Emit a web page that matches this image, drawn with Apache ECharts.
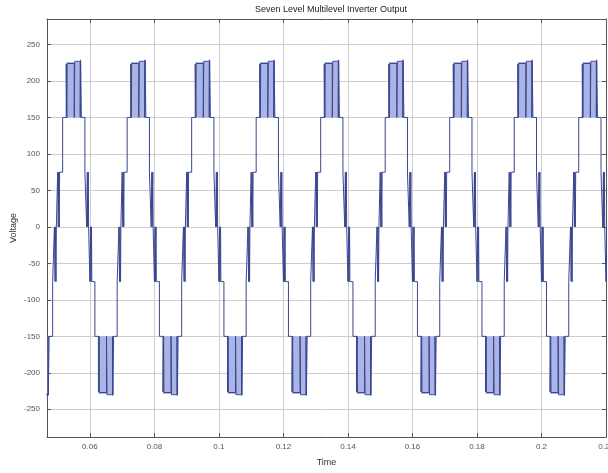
<!DOCTYPE html>
<html>
<head>
<meta charset="utf-8">
<title>Seven Level Multilevel Inverter Output</title>
<script src="https://cdn.jsdelivr.net/npm/echarts@6.0.0/dist/echarts.min.js"></script>
<style>
  html, body { margin: 0; padding: 0; background: #fff; }
  #chart { width: 608px; height: 473px; }
</style>
</head>
<body>
<div id="chart"></div>
<script>
// Tick labels
const xTicks = [0.06, 0.08, 0.1, 0.12, 0.14, 0.16, 0.18, 0.2, 0.22];
const yTicks = [-250, -200, -150, -100, -50, 0, 50, 100, 150, 200, 250];

// Start time (s) of each 50 Hz cycle in view
const cycleStarts = [0.03, 0.05, 0.07, 0.09, 0.11, 0.13, 0.15, 0.17, 0.19, 0.21];

// Switching instants inside one cycle (ms) and the level after each switch (V)
const switchTimes = [
    0.0, 0.2, 0.3, 0.5, 0.6, 1.55,
    2.65, 2.85, 2.95, 5.15, 5.3, 7.0, 7.1, 7.35,
    8.45, 9.0, 9.2, 9.3, 9.5, 9.6,
    10.0, 10.2, 10.3, 10.5, 10.6, 11.55,
    12.65, 12.85, 12.95, 15.15, 15.3, 17.0, 17.1, 17.35,
    18.45, 19.0, 19.2, 19.3, 19.5, 19.6
];
const switchLevels = [
    75, 0, 75, 0, 75, 150,
    223, 150, 224, 150, 227, 150, 229, 150,
    75, 0, 75, 0, 75, 0,
    -75, 0, -75, 0, -75, -150,
    -226, -150, -227, -150, -230, -150, -231, -150,
    -75, 0, -75, 0, -75, 0
];

// PWM bursts at the peaks: [start ms, end ms] and [inner level, outer level]
const peakBursts = [[2.65, 7.35], [12.65, 17.35]];
const burstLevels = [[150, 226], [-150, -229]];

let chart;

function buildWaveform() {
    const points = [];
    cycleStarts.forEach(t0 => {
        switchTimes.forEach((ms, i) => {
            points.push([+(t0 + ms / 1000).toFixed(5), switchLevels[i]]);
        });
    });
    return points;
}

function buildBurstAreas() {
    const areas = [];
    cycleStarts.forEach(t0 => {
        peakBursts.forEach((b, i) => {
            areas.push([
                { xAxis: t0 + b[0] / 1000, yAxis: burstLevels[i][0] },
                { xAxis: t0 + b[1] / 1000, yAxis: burstLevels[i][1] }
            ]);
        });
    });
    return areas;
}

function setupChart() {
    chart = echarts.init(document.getElementById('chart'));

    const axisColor = '#555';
    const gridColor = '#cdcdcd';
    const fmt = v => String(+(+v).toFixed(2));

    const option = {
        animation: false,
        backgroundColor: '#fff',
        title: {
            text: 'Seven Level Multilevel Inverter Output',
            left: 326,
            textAlign: 'center',
            top: 0,
            textStyle: { fontSize: 9, fontWeight: 'normal', color: '#222', fontFamily: 'Liberation Sans' }
        },
        grid: {
            left: 47, right: 2, top: 19, bottom: 36,
            containLabel: false,
            outerBoundsMode: 'none'
        },
        xAxis: [{
            type: 'value',
            min: 0.0467,
            max: 0.22,
            name: 'Time',
            nameLocation: 'middle',
            nameGap: 21,
            nameMoveOverlap: false,
            nameTextStyle: { fontSize: 9, color: '#333', fontFamily: 'Liberation Sans' },
            axisLine: { onZero: false, lineStyle: { color: axisColor } },
            axisTick: { inside: true, length: 4, customValues: xTicks, lineStyle: { color: axisColor } },
            axisLabel: { customValues: xTicks, fontSize: 8, color: '#555', margin: 6, formatter: fmt, fontFamily: 'Liberation Sans' },
            splitLine: { show: true, lineStyle: { color: gridColor } }
        }, {
            type: 'value',
            position: 'top',
            min: 0.0467,
            max: 0.22,
            axisLine: { onZero: false, lineStyle: { color: axisColor } },
            axisTick: { inside: true, length: 4, customValues: xTicks, lineStyle: { color: axisColor } },
            axisLabel: { show: false },
            splitLine: { show: false }
        }],
        yAxis: [{
            type: 'value',
            min: -288,
            max: 285,
            name: 'Voltage',
            nameLocation: 'middle',
            nameGap: 29,
            nameMoveOverlap: false,
            nameTextStyle: { fontSize: 9, color: '#333', fontFamily: 'Liberation Sans' },
            axisLine: { show: true, onZero: false, lineStyle: { color: axisColor } },
            axisTick: { show: true, inside: true, length: 4, customValues: yTicks, lineStyle: { color: axisColor } },
            axisLabel: { customValues: yTicks, fontSize: 8, color: '#555', margin: 7, fontFamily: 'Liberation Sans' },
            splitLine: { show: true, lineStyle: { color: gridColor } }
        }, {
            type: 'value',
            position: 'right',
            min: -288,
            max: 285,
            axisLine: { show: true, onZero: false, lineStyle: { color: axisColor } },
            axisTick: { show: true, inside: true, length: 4, customValues: yTicks, lineStyle: { color: axisColor } },
            axisLabel: { show: false },
            splitLine: { show: false }
        }],
        series: [{
            name: 'Inverter Output',
            type: 'line',
            step: 'end',
            data: buildWaveform(),
            showSymbol: false,
            symbol: 'none',
            clip: true,
            lineStyle: { color: '#3a4690', width: 1 },
            markArea: {
                silent: true,
                itemStyle: { color: '#aab5e6', opacity: 1 },
                data: buildBurstAreas()
            }
        }]
    };

    chart.setOption(option);
}

window.addEventListener('resize', () => {
    chart?.resize();
});

document.addEventListener('DOMContentLoaded', setupChart);
</script>
</body>
</html>
